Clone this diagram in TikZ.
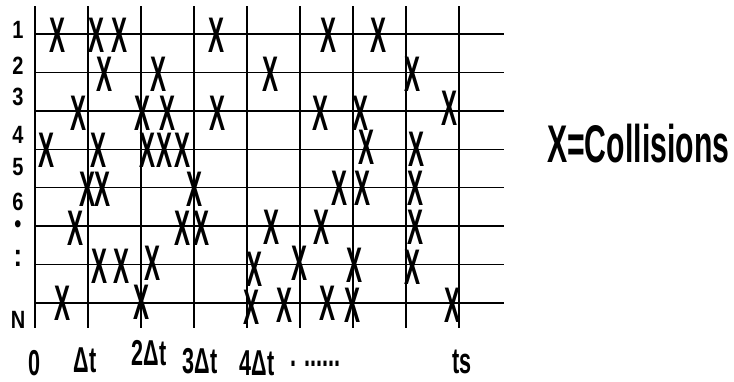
\documentclass[tikz,border=0pt]{standalone}
\usepackage{fontspec}
\usetikzlibrary{positioning}
\newfontfamily\hitfont[FakeStretch=0.48]{Liberation Sans Bold}
\newfontfamily\condfont[FakeStretch=0.57]{Liberation Sans Bold}
\newfontfamily\tickfont[FakeStretch=0.6]{Liberation Sans Bold}
\newfontfamily\rowfont[FakeStretch=0.8]{Liberation Sans Bold}
\tikzset{
  gridline/.style={line width=1.4pt, black},
  hit/.style={font=\hitfont\fontsize{50}{50}\selectfont, inner sep=0pt},
  rowlab/.style={font=\rowfont\fontsize{25}{25}\selectfont, inner sep=0pt},
  ticklab/.style={font=\tickfont\fontsize{36}{36}\selectfont, inner sep=0pt, anchor=base},
  legend/.style={font=\condfont\fontsize{53}{53}\selectfont, inner sep=0pt, anchor=west}
}

\begin{document}
\begin{tikzpicture}[x=1pt,y=-1pt]
\useasboundingbox (0,0) rectangle (734,381);

% time slots and stations
\foreach \i in {0,...,8}
  \draw[gridline] (35+53*\i,6) -- (35+53*\i,328);
\foreach \j in {0,...,7}
  \draw[gridline] (35,34+38.43*\j) -- (504,34+38.43*\j);

% collisions: x / row / shift
\foreach \x/\r/\d in {58/1/1,97/1/1,120/1/1,217/1/1,329/1/1,378/1/1,
    105/2/2,159/2/2,271/2/2,413/2/2,
    79/3/2,143/3/2,168/3/2,218/3/2,321/3/2,361/3/2,449/3/-3,
    47/4/1,99/4/1,148/4/1,165/4/1,183/4/1,367/4/-2,417/4/0,
    88/5/2,103/5/2,195/5/2,340/5/1,363/5/1,415/5/1,
    76/6/2,183/6/2,202/6/2,272/6/1,322/6/1,415/6/1,
    100/7/2,122/7/2,153/7/-1,255/7/5,300/7/-1,355/7/1,412/7/3,
    63/8/0,142/8/-1,252/8/4,285/8/2,328/8/0,353/8/2,452/8/2}
  \node[hit] (hit-\r-\x) at (\x,{34+38.43*(\r-1)+\d}) {X};

% station labels
\node[rowlab] (st1) at (18,30) {1};
\node[rowlab] (st2) at (18,66) {2};
\node[rowlab] (st3) at (18,97) {3};
\node[rowlab] (st4) at (18,135) {4};
\node[rowlab] (st5) at (18,167) {5};
\node[rowlab] (st6) at (18,202) {6};
\node[rowlab] (dot1) at (18,227) {•};
\node[rowlab, font=\rowfont\fontsize{32}{32}\selectfont] (dot2) at (18,258) {:};
\node[rowlab] (stN) at (18,320) {N};

% time labels
\node[ticklab] (t0) at (35,375) {0};
\node[ticklab] (t1) at (85,372) {Δt};
\node[ticklab] (t2) at (149,365) {2Δt};
\node[ticklab] (t3) at (200,373) {3Δt};
\node[ticklab] (t4) at (257,375) {4Δt};
\node[ticklab, anchor=base west] (tdots) at (290,366) {. ......};
\node[ticklab] (ts) at (462,373) {ts};

\node[legend] (key) at (547,144) {X=Collisions};
\end{tikzpicture}
\end{document}
